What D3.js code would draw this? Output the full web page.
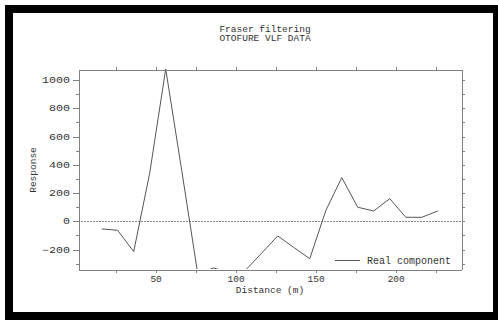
<!DOCTYPE html>
<meta charset="utf-8">
<style>
body { margin: 0; background: #fff; }
text { font-family: "Liberation Mono", monospace; fill: #333; }
.ax { stroke: #808080; stroke-width: 1; fill: none; shape-rendering: crispEdges; }
.line { fill: none; stroke: #555; stroke-width: 1; }
.zero { stroke: #888; stroke-width: 1; stroke-dasharray: 1.5, 1.5; shape-rendering: crispEdges; }
</style>
<svg width="498" height="320"></svg>
<script src="https://d3js.org/d3.v7.min.js"></script>
<script>
// distance (m) and filtered response
var distance = [16, 26, 36, 46, 56, 66, 76, 86, 96, 106, 116, 126, 136, 146, 156, 166, 176, 186, 196, 206, 216, 226];
var response = [-54, -64, -215, 340, 1078, 360, -370, -331, -365, -345, -225, -104, -185, -265, 75, 309, 99, 73, 160, 28, 28, 73];
var xLabels = [50, 100, 150, 200];
var yLabels = [-200, 0, 200, 400, 600, 800, 1000];
var seriesName = "Real component";

var svg = d3.select("svg");

// black frame
svg.append("rect").attr("x", 5).attr("y", 5).attr("width", 520).attr("height", 340).attr("fill", "#000");
svg.append("rect").attr("x", 13).attr("y", 13).attr("width", 480).attr("height", 299).attr("fill", "#fff");

var pL = 78, pR = 461, pT = 69, pB = 269;

var x = d3.scaleLinear().domain([1.2, 240.5]).range([pL, pR]);
var y = d3.scaleLinear().domain([-338, 1078]).range([pB, pT]);

var g = svg.append("g");

svg.append("defs").append("clipPath").attr("id", "clip")
  .append("rect").attr("x", pL).attr("y", pT).attr("width", pR - pL).attr("height", pB - pT);

// zero line
g.append("line").attr("class", "zero")
  .attr("x1", pL).attr("x2", pR)
  .attr("y1", Math.round(y(0)) + 0.5).attr("y2", Math.round(y(0)) + 0.5);

// data
g.append("path").datum(distance.map(function(d, i) { return [d, response[i]]; }))
  .attr("class", "line")
  .attr("clip-path", "url(#clip)")
  .attr("d", d3.line().x(function(d) { return x(d[0]); }).y(function(d) { return y(d[1]); }));

// axes
var xt = d3.range(25, 240, 25);
var ymin = d3.range(-300, 1001, 100);

g.append("g").attr("class", "ax").attr("transform", "translate(0," + (pB + 0.5) + ")")
  .call(d3.axisBottom(x).tickValues(xt).tickSize(3).tickSizeOuter(0).tickFormat(""));
g.append("g").attr("class", "ax").attr("transform", "translate(0," + (pT + 0.5) + ")")
  .call(d3.axisTop(x).tickValues(xt).tickSize(3).tickSizeOuter(0).tickFormat(""));
g.append("g").attr("class", "ax").attr("transform", "translate(" + (pL + 0.5) + ",0)")
  .call(d3.axisLeft(y).tickValues(ymin).tickSize(3).tickSizeOuter(0).tickFormat(""));
g.append("g").attr("class", "ax").attr("transform", "translate(" + (pL + 0.5) + ",0)")
  .call(d3.axisLeft(y).tickValues(yLabels).tickSize(6).tickSizeOuter(0).tickFormat(""));
g.append("g").attr("class", "ax").attr("transform", "translate(" + (pR + 0.5) + ",0)")
  .call(d3.axisRight(y).tickValues(ymin).tickSize(3).tickSizeOuter(0).tickFormat(""));
g.selectAll(".ax .domain").attr("stroke", "#808080");
g.selectAll(".ax line").attr("stroke", "#808080");

// tick labels
g.selectAll(".xl").data(xLabels).enter().append("text")
  .attr("x", function(d) { return x(d); }).attr("y", 282)
  .attr("text-anchor", "middle").style("font-size", "9.5px")
  .text(function(d) { return d; });

g.selectAll(".yl").data(yLabels).enter().append("text")
  .attr("transform", function(d) { return "translate(70," + (y(d) + 3) + ") scale(1.3,1)"; })
  .attr("text-anchor", "end").style("font-size", "9px")
  .text(function(d) { return d < 0 ? "\u2212" + (-d) : d; });

// titles
svg.append("text").attr("x", 265).attr("y", 32).attr("text-anchor", "middle")
  .style("font-size", "9.5px").text("Fraser filtering");
svg.append("text").attr("x", 265).attr("y", 41).attr("text-anchor", "middle")
  .style("font-size", "9.5px").text("OTOFURE VLF DATA");
svg.append("text").attr("x", 270).attr("y", 293).attr("text-anchor", "middle")
  .style("font-size", "9.5px").text("Distance (m)");
svg.append("text").attr("transform", "translate(36,170) rotate(-90)").attr("text-anchor", "middle")
  .style("font-size", "9.5px").text("Response");

// legend
svg.append("line").attr("x1", 335).attr("x2", 360).attr("y1", 260.5).attr("y2", 260.5)
  .attr("stroke", "#555");
svg.append("text").attr("x", 367).attr("y", 263.5).style("font-size", "10px").text(seriesName);
</script>
